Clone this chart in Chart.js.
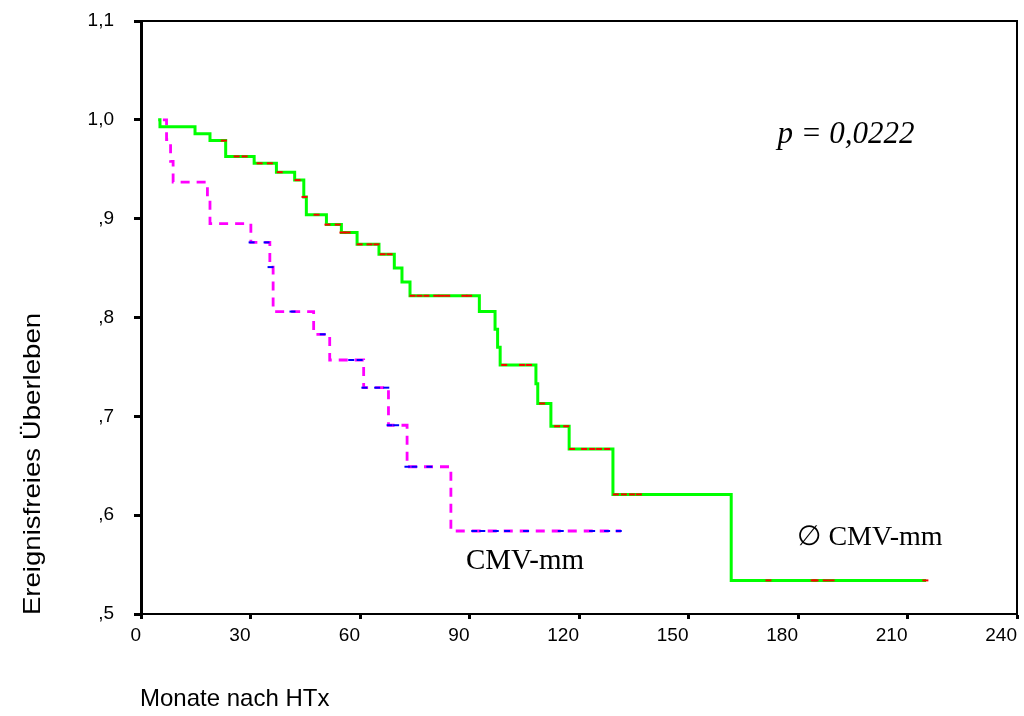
<!DOCTYPE html>
<html>
<head>
<meta charset="utf-8">
<script src="https://cdn.jsdelivr.net/npm/chart.js@4"></script>
<style>
  html, body { margin: 0; padding: 0; background: #fff; }
  #wrap { width: 1024px; height: 716px; position: relative; }
</style>
</head>
<body>
<div id="wrap"><canvas id="c" width="1024" height="716"></canvas></div>
<script>
// ---- Data ----
// Group without CMV mismatch (green, solid)
const monthsNoMM = [4.7, 5.2, 14.8, 18.9, 23.2, 31.0, 37.1, 42.1, 44.6, 45.3, 50.8, 54.9, 59.2, 65.2, 69.4, 71.5, 73.7, 92.7, 97.0, 97.7, 98.4, 108.2, 108.7, 112.3, 117.3, 129.3, 161.7, 215.1];
const survNoMM   = [1.000, 0.993, 0.986, 0.979, 0.963, 0.956, 0.947, 0.939, 0.922, 0.904, 0.894, 0.886, 0.874, 0.864, 0.850, 0.836, 0.822, 0.806, 0.788, 0.770, 0.752, 0.733, 0.713, 0.690, 0.667, 0.621, 0.534, 0.534];
const censoredNoMM = [22.7, 26.2, 28.4, 32.5, 35.3, 38.0, 42.9, 44.8, 48.1, 51.1, 53.9, 55.2, 56.6, 59.9, 62.6, 64.5, 66.2, 68.1, 74.4, 76.3, 78.2, 80.9, 82.3, 83.9, 88.6, 89.9, 99.5, 104.4, 106.3, 109.9, 114.0, 116.5, 118.1, 121.4, 123.6, 125.5, 127.7, 130.1, 132.3, 134.5, 136.4, 171.9, 184.3, 184.8, 187.6, 189.2, 214.9];

// Group with CMV mismatch (magenta, dashed)
const monthsMM = [6.0, 7.0, 8.1, 8.8, 18.2, 18.9, 30.1, 35.3, 36.2, 47.3, 51.7, 61.0, 67.8, 72.9, 84.9, 131.5];
const survMM   = [1.000, 0.980, 0.958, 0.937, 0.919, 0.895, 0.876, 0.851, 0.806, 0.783, 0.757, 0.729, 0.691, 0.649, 0.584, 0.584];
const censoredMM = [30.3, 34.4, 35.5, 41.5, 49.8, 57.6, 59.9, 61.2, 64.7, 67.2, 68.1, 69.9, 73.0, 74.9, 79.0, 91.3, 93.5, 97.2, 100.3, 105.5, 115.0, 123.6, 127.7, 130.9];

const xTickValues = [0, 30, 60, 90, 120, 150, 180, 210, 240];
const yTickValues = [0.5, 0.6, 0.7, 0.8, 0.9, 1.0, 1.1];
const yTickLabels = [',5', ',6', ',7', ',8', ',9', '1,0', '1,1'];

const labels = {
  yTitle: 'Ereignisfreies Überleben',
  xTitle: 'Monate nach HTx',
  pValue: 'p = 0,0222',
  groupMM: 'CMV-mm',
  groupNoMM: '\u2205 CMV-mm'
};

// ---- Helpers ----
function curve(ts, ss) { return ts.map((t, i) => ({ x: t, y: ss[i] })); }
function survAt(ts, ss, t) {
  let s = ss[0];
  for (let i = 0; i < ts.length; i++) { if (ts[i] <= t) s = ss[i]; }
  return s;
}
function censorPoints(cs, ts, ss) { return cs.map(t => ({ x: t, y: survAt(ts, ss, t) })); }
function noPad(s) { s.paddingTop = 0; s.paddingBottom = 0; s.paddingLeft = 0; s.paddingRight = 0; }

const SANS = '"Liberation Sans", Arial, sans-serif';
const SERIF = '"Liberation Serif", "Times New Roman", serif';

const decorPlugin = {
  id: 'decor',
  afterDraw(chart) {
    const { ctx, chartArea: a } = chart;
    ctx.save();
    ctx.strokeStyle = '#000';
    ctx.lineWidth = 2;
    ctx.beginPath();
    ctx.moveTo(a.left, a.top);
    ctx.lineTo(a.right, a.top);
    ctx.lineTo(a.right, a.bottom);
    ctx.stroke();
    ctx.fillStyle = '#000';
    // Titles
    ctx.font = '24px ' + SANS;
    ctx.textBaseline = 'middle';
    ctx.textAlign = 'left';
    ctx.fillText(labels.xTitle, 140, 699);
    ctx.save();
    ctx.translate(33, 464);
    ctx.rotate(-Math.PI / 2);
    ctx.scale(1.15, 1);
    ctx.textAlign = 'center';
    ctx.fillText(labels.yTitle, 0, 0);
    ctx.restore();
    // annotations
    ctx.font = 'italic 31px ' + SERIF;
    ctx.textAlign = 'center';
    ctx.fillText(labels.pValue, 846, 135);
    ctx.font = '29px ' + SERIF;
    ctx.fillText(labels.groupMM, 525, 561);
    ctx.font = '28px ' + SERIF;
    ctx.fillText(labels.groupNoMM, 870, 538);
    ctx.restore();
  }
};

new Chart(document.getElementById('c'), {
  type: 'line',
  data: {
    datasets: [
      {
        label: 'noMM-censored', type: 'scatter',
        data: censorPoints(censoredNoMM, monthsNoMM, survNoMM),
        pointStyle: 'line', pointRadius: 3, pointBorderWidth: 2,
        borderColor: '#ff0000', backgroundColor: '#ff0000', showLine: false, order: 0
      },
      {
        label: 'MM-censored', type: 'scatter',
        data: censorPoints(censoredMM, monthsMM, survMM),
        pointStyle: 'line', pointRadius: 3, pointBorderWidth: 2,
        borderColor: '#0000ff', backgroundColor: '#0000ff', showLine: false, order: 1
      },
      {
        label: labels.groupNoMM,
        data: curve(monthsNoMM, survNoMM),
        stepped: 'before', borderColor: '#00ff00', borderWidth: 3,
        pointRadius: 0, fill: false, order: 2
      },
      {
        label: labels.groupMM,
        data: curve(monthsMM, survMM),
        stepped: 'before', borderColor: '#ff00ff', borderWidth: 2.8,
        borderDash: [9, 7], pointRadius: 0, fill: false, order: 3
      }
    ]
  },
  options: {
    responsive: false,
    animation: false,
    layout: { autoPadding: false, padding: { top: 21, right: 7, left: 0, bottom: 0 } },
    plugins: { legend: { display: false }, tooltip: { enabled: false } },
    scales: {
      x: {
        type: 'linear', min: 0, max: 240,
        afterFit(s) { s.height = 102; noPad(s); },
        afterBuildTicks(s) { s.ticks = xTickValues.map(v => ({ value: v })); },
        border: { display: true, color: '#000', width: 2 },
        grid: { display: true, drawOnChartArea: false, drawTicks: true, tickLength: 5, tickWidth: 3, tickColor: '#000' },
        ticks: { color: '#000', font: { family: SANS, size: 19 }, padding: 5, maxRotation: 0, autoSkip: false, align: 'end' }
      },
      y: {
        type: 'linear', min: 0.5, max: 1.1,
        afterFit(s) { s.width = 141; noPad(s); },
        afterBuildTicks(s) { s.ticks = yTickValues.map(v => ({ value: v })); },
        border: { display: true, color: '#000', width: 3 },
        grid: { display: true, drawOnChartArea: false, drawTicks: true, tickLength: 7, tickWidth: 3, tickColor: '#000' },
        ticks: {
          color: '#000', font: { family: SANS, size: 19 }, padding: 20, autoSkip: false,
          callback: (v) => {
            const i = yTickValues.findIndex(t => Math.abs(t - v) < 1e-6);
            return i >= 0 ? yTickLabels[i] : '';
          }
        }
      }
    }
  },
  plugins: [decorPlugin]
});
</script>
</body>
</html>
